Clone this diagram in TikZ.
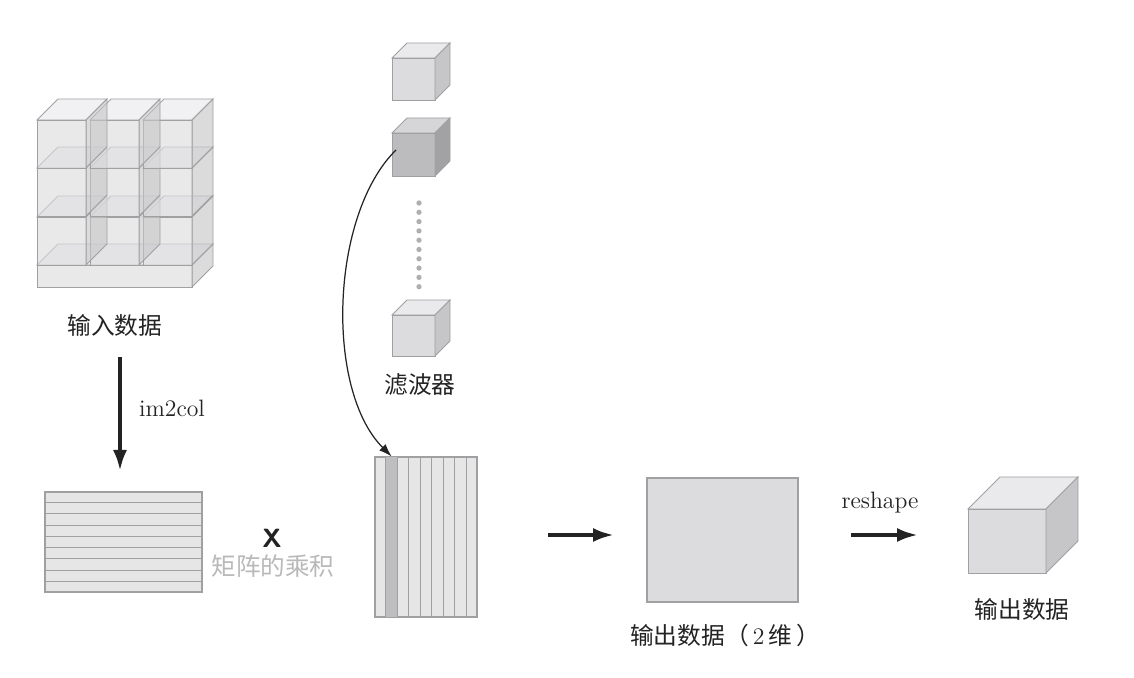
\documentclass[tikz,border=0pt]{standalone}
\usepackage{fontspec}
\newfontfamily\cjk{Noto Sans CJK SC}
\usepackage{tikz}
\usetikzlibrary{arrows.meta,calc}
\definecolor{lightface}{RGB}{220,220,222}
\definecolor{lighttop}{RGB}{234,234,236}
\definecolor{lightside}{RGB}{198,198,200}
\definecolor{darkface}{RGB}{188,188,190}
\definecolor{darktop}{RGB}{214,214,216}
\definecolor{darkside}{RGB}{162,162,165}
\definecolor{edgegrey}{RGB}{160,160,163}
\definecolor{stripegrey}{RGB}{230,230,231}
\definecolor{colgrey}{RGB}{190,190,192}
\definecolor{inkgrey}{RGB}{35,35,35}
\definecolor{softgrey}{RGB}{185,185,185}
\definecolor{dotgrey}{RGB}{175,175,175}
\tikzset{
  lbl/.style={font=\cjk\fontsize{13.5}{15}\selectfont, text=inkgrey, inner sep=1pt},
  latin/.style={font=\fontsize{13.5}{15}\selectfont, text=inkgrey, inner sep=1pt},
  edge/.style={draw=edgegrey, line width=0.5pt},
  mat/.style={rectangle, draw=edgegrey, fill=stripegrey, line width=0.6pt, inner sep=0pt},
  bigarr/.style={-{Latex[length=4.2mm,width=2.8mm]}, line width=2.2pt, draw=inkgrey},
  curvarr/.style={-{Latex[length=2.6mm,width=1.8mm]}, line width=0.7pt, draw=inkgrey},
}
% cube: colour set, front top-left x, y, width, height, depth
\newcommand{\drawcube}[6]{%
  \draw[edge,fill=#1face] (#2,#3) rectangle ({#2+#4},{#3+#5});
  \draw[edge,fill=#1top] (#2,#3) -- ({#2+#6},{#3-#6}) -- ({#2+#4+#6},{#3-#6}) -- ({#2+#4},#3) -- cycle;
  \draw[edge,fill=#1side] ({#2+#4},#3) -- ({#2+#4+#6},{#3-#6}) -- ({#2+#4+#6},{#3+#5-#6}) -- ({#2+#4},{#3+#5}) -- cycle;
}

\begin{document}
\begin{tikzpicture}[x=0.02cm,y=-0.02cm]
  \useasboundingbox[fill=white] (0,0) rectangle (1134,678);
  % input data
  \begin{scope}[fill opacity=0.62]
    \drawcube{light}{37}{265}{155}{22}{21}
    \foreach \r in {217,168,120}{
      \foreach \c in {143,90,37}{
        \drawcube{light}{\c}{\r}{49}{48}{21}
      }
    }
  \end{scope}
  \node[lbl] (inlbl) at (115,325) {输入数据};
  % im2col
  \coordinate (a1s) at (120,357);
  \coordinate (a1e) at (120,471);
  \draw[bigarr] (a1s) -- (a1e);
  \node[latin,anchor=west] (im2col) at (137,408) {im2col};
  % input as matrix
  \node[mat, minimum width=3.14cm, minimum height=2cm] (hm) at (123.5,542) {};
  \foreach \i in {1,...,8}{
    \draw[edge] ($(hm.north west)!\i/9!(hm.south west)$) -- ($(hm.north east)!\i/9!(hm.south east)$);
  }
  \node[font=\sffamily\bfseries\fontsize{15}{16}\selectfont, text=inkgrey] (times) at (272,538) {X};
  \node[lbl, text=softgrey, font=\cjk\fontsize{14}{16}\selectfont] (prod) at (273,566) {矩阵的乘积};
  % filters
  \drawcube{light}{392}{58}{43}{42}{15}
  \drawcube{dark}{392}{133}{43}{43}{15}
  \foreach \k in {0,...,9}{
    \fill[dotgrey] (419,{203+\k*9.3}) circle (1.5pt);
  }
  \drawcube{light}{392}{315}{43}{41}{15}
  \node[lbl] (filt) at (420,385) {滤波器};
  % filters as matrix
  \node[mat, minimum width=2.04cm, minimum height=3.2cm] (vm) at (426,537) {};
  \fill[colgrey] ($(vm.north west)!1/9!(vm.north east)$) rectangle ($(vm.south west)!2/9!(vm.south east)$);
  \foreach \i in {1,...,8}{
    \draw[edge] ($(vm.north west)!\i/9!(vm.north east)$) -- ($(vm.south west)!\i/9!(vm.south east)$);
  }
  \draw[edge] (vm.north west) rectangle (vm.south east);
  \coordinate (f2) at (396,150);
  \coordinate (c2) at ($(vm.north west)!1.5/9!(vm.north east)$);
  \draw[curvarr] (f2) .. controls (330,215) and (325,390) .. (c2);
  % output (2d)
  \coordinate (a2s) at (548,535);
  \coordinate (a2e) at (614,535);
  \draw[bigarr] (a2s) -- (a2e);
  \node[rectangle, draw=edgegrey, fill=lightface, line width=0.6pt, minimum width=3.02cm, minimum height=2.48cm, inner sep=0pt] (out2) at (722.5,540) {};
  \node[lbl] (out2lbl) at (725,635) {输出数据（\,{\rmfamily 2}\,维\,）};
  % reshape
  \node[latin] (resh) at (880,503) {reshape};
  \coordinate (a3s) at (851,535);
  \coordinate (a3e) at (918,535);
  \draw[bigarr] (a3s) -- (a3e);
  \drawcube{light}{968}{509}{78}{64}{32}
  \node[lbl] (outlbl) at (1022,609) {输出数据};
\end{tikzpicture}
\end{document}
